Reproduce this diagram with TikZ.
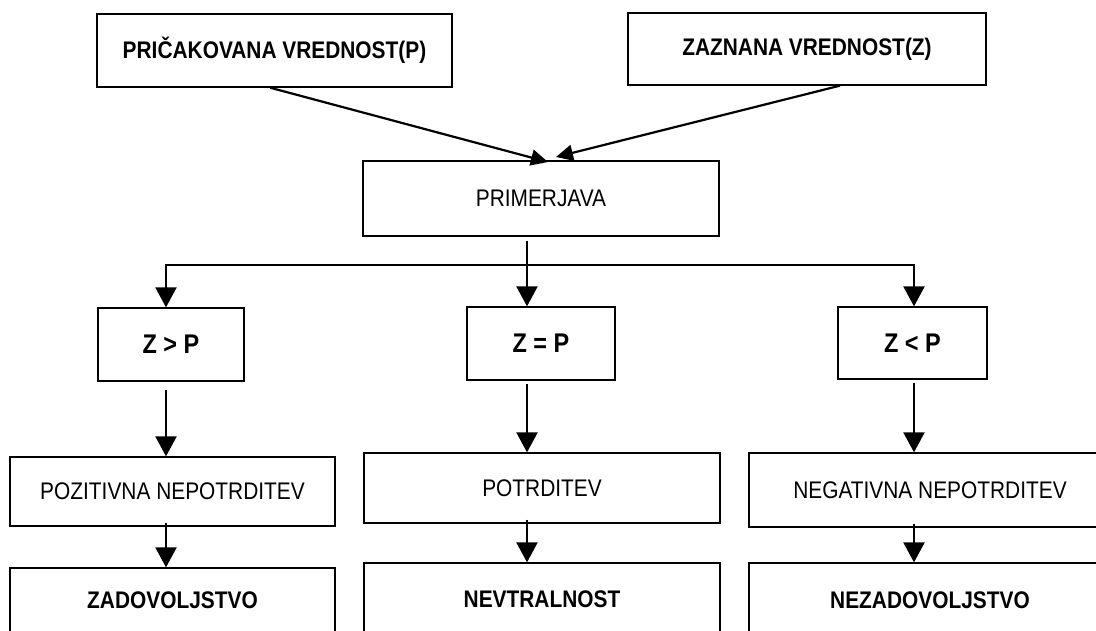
\documentclass[tikz,border=0pt]{standalone}
\usepackage{fontspec}
\setmainfont{Liberation Sans}[FakeStretch=0.87]
\usetikzlibrary{arrows.meta}

\tikzset{
  box/.style={draw, line width=1.3pt, inner sep=0pt, align=center, font=\fontsize{24}{28}\selectfont},
  boldbox/.style={box, font=\fontsize{24}{28}\selectfont\bfseries},
  relbox/.style={box, font=\fontsize{27}{31}\selectfont\bfseries},
  arr/.style={-{Triangle[length=20pt,width=21pt]}, line width=2.2pt},
  toparr/.style={-{Triangle[length=17pt,width=16pt]}, line width=2.2pt},
}

\begin{document}
\begin{tikzpicture}[x=1pt,y=-1pt]

 \useasboundingbox (0,0) rectangle (1096,630);
 \clip (0,0) rectangle (1096,630);

 % top row
 \node[boldbox, minimum width=355pt, minimum height=73pt] (pric) at (274.5,50.5) {PRIČAKOVANA VREDNOST(P)};
 \node[boldbox, minimum width=358pt, minimum height=72pt] (zazn) at (807,49) {ZAZNANA VREDNOST(Z)};
 \node[box, minimum width=356pt, minimum height=75pt] (prim) at (541,198.5) {PRIMERJAVA};

 % relations
 \node[relbox, minimum width=146pt, minimum height=73pt] (zgt) at (171,344.5) {Z > P};
 \node[relbox, minimum width=148pt, minimum height=73pt] (zeq) at (541,343.5) {Z = P};
 \node[relbox, minimum width=149pt, minimum height=72pt] (zlt) at (912.5,343) {Z < P};

 \node[box, minimum width=325pt, minimum height=69pt] (pozit) at (172.5,491.5) {POZITIVNA NEPOTRDITEV};
 \node[box, minimum width=356pt, minimum height=70pt] (potrd) at (542,488) {POTRDITEV};
 \node[box, minimum width=362pt, minimum height=74pt] (negat) at (930,490) {NEGATIVNA NEPOTRDITEV};

 \node[boldbox, minimum width=325pt, minimum height=64pt] (zadov) at (172.5,600) {ZADOVOLJSTVO};
 \node[boldbox, minimum width=356pt, minimum height=72pt] (nevtr) at (542,599) {NEVTRALNOST};
 \node[boldbox, minimum width=362pt, minimum height=74pt] (nezad) at (930,600) {NEZADOVOLJSTVO};

 \coordinate (tipL) at (548,162);
 \coordinate (tipR) at (556,157);
 \coordinate (cL) at (166,265);
 \coordinate (cM) at (527,265);
 \coordinate (cR) at (914,265);

 \draw[toparr] ([xshift=-4.5pt]pric.south) -- (tipL);
 \draw[toparr] ([xshift=33pt]zazn.south) -- (tipR);

 \draw[line width=2.2pt] ([yshift=-4pt]cM |- prim.south) -- (cM);
 \draw[arr] (cM) -- (cL) -- (cL |- zgt.north);
 \draw[arr] (cM) -- (cR) -- (cR |- zlt.north);
 \draw[arr] (cM) -- (cM |- zeq.north);

 \draw[arr, shorten <=8pt] (cL |- zgt.south) -- (cL |- pozit.north);
 \draw[arr, shorten <=3pt] (cM |- zeq.south) -- (cM |- potrd.north);
 \draw[arr, shorten <=3pt] (cR |- zlt.south) -- (cR |- negat.north);

 \draw[arr] ([yshift=4pt]cL |- pozit.south) -- (cL |- zadov.north);
 \draw[arr] ([yshift=4pt]cM |- potrd.south) -- (cM |- nevtr.north);
 \draw[arr] ([yshift=4pt]cR |- negat.south) -- (cR |- nezad.north);

\end{tikzpicture}
\end{document}
